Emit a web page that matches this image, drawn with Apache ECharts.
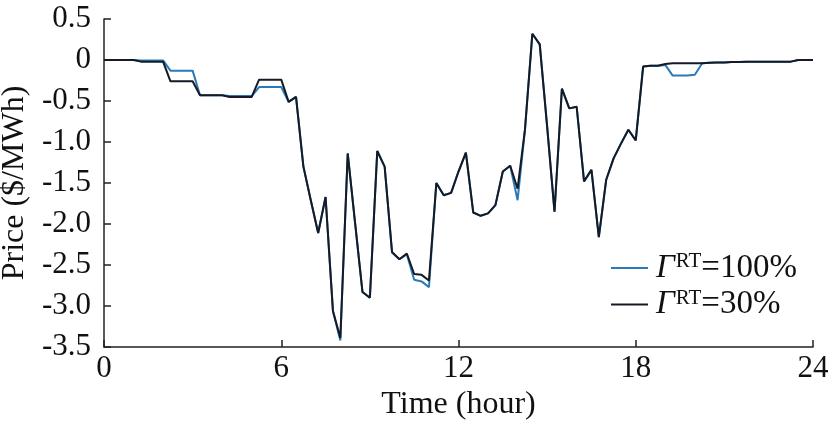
<!DOCTYPE html>
<html>
<head>
<meta charset="utf-8">
<script src="https://cdn.jsdelivr.net/npm/echarts@6/dist/echarts.min.js"></script>
<style>
  html, body { margin: 0; padding: 0; background: #fff; }
  #chart { width: 830px; height: 429px; }
</style>
</head>
<body>
<div id="chart"></div>
<script>
// 15-min prices over one day, 0:00 .. 24:00 (97 points)
var stepHours = 0.25;
var price100 = [
    0, 0, 0, 0, 0, -0.005, -0.005, -0.005, -0.005,
    -0.13, -0.13, -0.13, -0.13, -0.43, -0.43, -0.43, -0.43,
    -0.44, -0.44, -0.44, -0.44, -0.33, -0.33, -0.33, -0.33,
    -0.51, -0.45, -1.30, -1.71, -2.11, -1.67, -3.06, -3.42,
    -1.14, -1.99, -2.83, -2.90, -1.11, -1.30, -2.35, -2.43,
    -2.37, -2.68, -2.70, -2.77, -1.50, -1.65, -1.62, -1.36,
    -1.13, -1.86, -1.90, -1.87, -1.77, -1.36, -1.29, -1.71,
    -0.85, 0.32, 0.19, -0.81, -1.85, -0.35, -0.59, -0.57,
    -1.48, -1.34, -2.16, -1.46, -1.20, -1.02, -0.85, -0.98,
    -0.08, -0.07, -0.07, -0.06, -0.19, -0.19, -0.19, -0.18,
    -0.04, -0.035, -0.03, -0.03, -0.025, -0.025, -0.02, -0.02,
    -0.02, -0.02, -0.02, -0.02, -0.02, 0, 0, 0
];
var price30 = [
    0, 0, 0, 0, 0, -0.02, -0.02, -0.02, -0.02,
    -0.26, -0.26, -0.26, -0.26, -0.43, -0.43, -0.43, -0.43,
    -0.45, -0.45, -0.45, -0.45, -0.24, -0.24, -0.24, -0.24,
    -0.51, -0.45, -1.30, -1.71, -2.11, -1.67, -3.06, -3.39,
    -1.14, -1.99, -2.83, -2.90, -1.11, -1.30, -2.34, -2.43,
    -2.36, -2.61, -2.62, -2.69, -1.50, -1.65, -1.62, -1.36,
    -1.13, -1.86, -1.90, -1.87, -1.77, -1.36, -1.29, -1.57,
    -0.85, 0.32, 0.19, -0.81, -1.85, -0.35, -0.59, -0.57,
    -1.48, -1.34, -2.16, -1.46, -1.20, -1.02, -0.85, -0.98,
    -0.08, -0.07, -0.07, -0.05, -0.04, -0.04, -0.04, -0.04,
    -0.04, -0.035, -0.03, -0.03, -0.025, -0.025, -0.02, -0.02,
    -0.02, -0.02, -0.02, -0.02, -0.02, 0, 0, 0
];
var xTicks = [0, 6, 12, 18, 24];
var seriesNames = ['100%', '30%'];

var font = 'Liberation Serif, Times New Roman, serif';

function toPairs(vals) {
    var out = [];
    for (var i = 0; i < vals.length; i++) {
        out.push([i * stepHours, vals[i]]);
    }
    return out;
}

var myChart = echarts.init(document.getElementById('chart'), null, {renderer: 'canvas'});

var option = {
    animation: false,
    backgroundColor: '#fff',
    grid: {left: 104, right: 17, top: 19, bottom: 82, containLabel: false, outerBoundsMode: 'none'},
    legend: {
        orient: 'vertical',
        left: 606,
        top: 246,
        itemWidth: 37,
        itemHeight: 2,
        itemGap: 3,
        icon: 'rect',
        data: seriesNames,
        formatter: function (name) {
            return '{g|\u0393}{s|RT}{n|=' + name + '}';
        },
        textStyle: {
            color: '#111',
            rich: {
                g: {fontFamily: font, fontStyle: 'italic', fontSize: 33, lineHeight: 34, padding: [0, 1, 0, 3]},
                s: {fontFamily: font, fontSize: 21, lineHeight: 20, verticalAlign: 'top'},
                n: {fontFamily: font, fontSize: 33, lineHeight: 34}
            }
        }
    },
    xAxis: {
        type: 'value',
        min: 0,
        max: 24,
        interval: 6,
        name: 'Time (hour)',
        nameLocation: 'middle',
        nameGap: 40,
        nameTextStyle: {fontFamily: font, fontSize: 32, color: '#111'},
        axisLine: {onZero: false, lineStyle: {color: '#222', width: 1.5}},
        axisTick: {inside: true, length: 7, lineStyle: {color: '#222', width: 1.5}},
        axisLabel: {
            fontFamily: font, fontSize: 31, color: '#111', margin: 6,
            formatter: function (v) { return xTicks.indexOf(v) >= 0 ? String(v) : ''; }
        },
        splitLine: {show: false}
    },
    yAxis: {
        type: 'value',
        min: -3.5,
        max: 0.5,
        interval: 0.5,
        name: 'Price ($/MWh)',
        nameLocation: 'middle',
        nameGap: 66,
        nameTextStyle: {fontFamily: font, fontSize: 32, color: '#111'},
        axisLine: {show: true, onZero: false, lineStyle: {color: '#222', width: 1.5}},
        axisTick: {show: true, inside: true, length: 7, lineStyle: {color: '#222', width: 1.5}},
        axisLabel: {
            fontFamily: font, fontSize: 31, color: '#111', margin: 13,
            formatter: function (v) { return v === 0 ? '0' : v.toFixed(1); }
        },
        splitLine: {show: false}
    },
    series: [
        {
            name: seriesNames[0],
            type: 'line',
            data: toPairs(price100),
            showSymbol: false,
            symbol: 'none',
            lineStyle: {color: '#2a7ab9', width: 2},
            itemStyle: {color: '#2a7ab9'},
            z: 2
        },
        {
            name: seriesNames[1],
            type: 'line',
            data: toPairs(price30),
            showSymbol: false,
            symbol: 'none',
            lineStyle: {color: '#151a24', width: 2},
            itemStyle: {color: '#151a24'},
            z: 3
        }
    ]
};
myChart.setOption(option);
</script>
</body>
</html>
